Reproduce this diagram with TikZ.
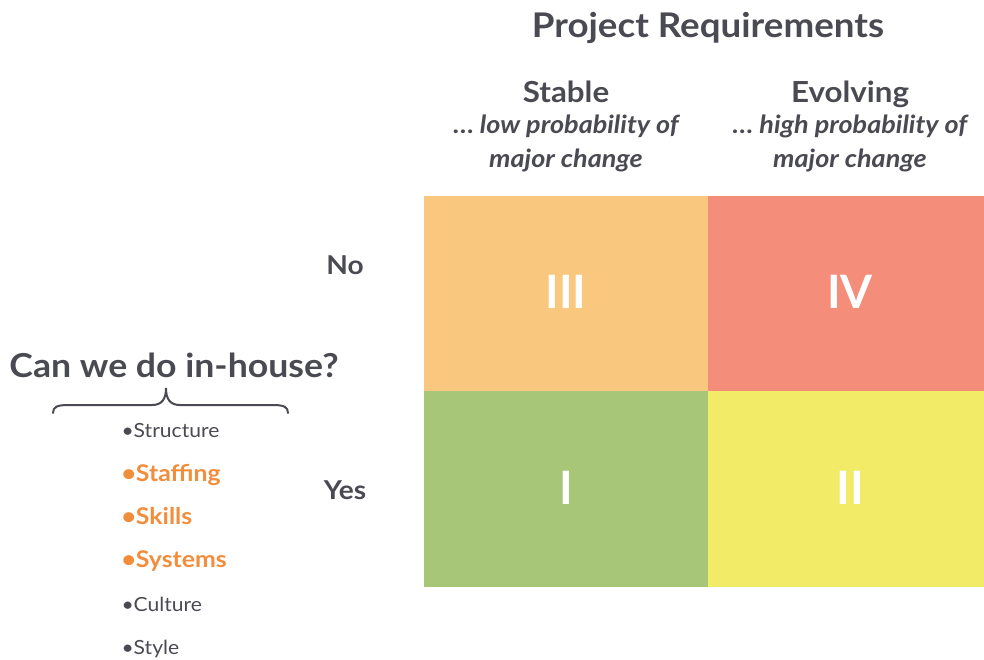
\documentclass[tikz,border=0pt]{standalone}
\usepackage{fontspec}
\setmainfont{Lato}[FakeStretch=1.08]
\newfontfamily\numfont{Lato}
\definecolor{ink}{HTML}{4A4A52}
\definecolor{hilite}{HTML}{F28D3C}
\definecolor{cellIII}{HTML}{F9C77D}
\definecolor{cellIV}{HTML}{F48E7A}
\definecolor{cellI}{HTML}{A7C677}
\definecolor{cellII}{HTML}{F1EB67}
\begin{document}
\begin{tikzpicture}[x=1pt,y=-1pt,
        heading/.style={text=ink,font=\bfseries\fontsize{34}{38}\selectfont},
        colhead/.style={text=ink,font=\bfseries\fontsize{29}{34}\selectfont},
        colnote/.style={text=ink,align=center,font=\bfseries\itshape\fontsize{25}{34}\selectfont},
        rowhead/.style={text=ink,font=\bfseries\fontsize{26}{30}\selectfont},
        numeral/.style={text=white,font=\numfont\bfseries\fontsize{46}{50}\selectfont},
        plain item/.style={anchor=base west,text=ink,font=\fontsize{19.5}{22}\selectfont},
        key item/.style={anchor=base west,text=hilite,font=\bfseries\fontsize{23}{26}\selectfont}]
        \useasboundingbox(0,0)rectangle(984,659);

        % quadrants
        \fill[cellIII](424,196)rectangle(708,391);
        \fill[cellIV](708,196)rectangle(984,391);
        \fill[cellI](424,391)rectangle(708,587);
        \fill[cellII](708,391)rectangle(984,587);
        \node[numeral](qIII)at(566,292){III};
        \node[numeral](qIV)at(850,292){IV};
        \node[numeral](qI)at(566,488){I};
        \node[numeral](qII)at(850,488){II};

        % column headings
        \node[heading,anchor=base](title)at(708,37){Project Requirements};
        \node[colhead,anchor=base](stable)at(566,102){Stable};
        \node[colhead,anchor=base](evolving)at(850,102){Evolving};
        \node[colnote,anchor=north](stablenote)at(566,111){\dots\ low probability of\\major change};
        \node[colnote,anchor=north](evolvingnote)at(850,111){\dots\ high probability of\\major change};

        % row headings
        \node[rowhead](no)at(345,265){No};
        \node[rowhead](yes)at(345,490){Yes};
        \node[heading,font=\bfseries\fontsize{33}{38}\selectfont,anchor=base](inhouse)at(174,377){Can we do in-house?};
        \draw[ink,line width=2pt,line cap=round](53,413)..controls(53,407)and(57,405)..(68,405)--(152,405)
            ..controls(162,405)and(166,399)..(166,388)
            ..controls(166,399)and(170,405)..(180,405)--(273,405)
            ..controls(284,405)and(288,407)..(288,413);

        % what we would need
        \node[plain item](structure)at(118,437){•Structure};
        \node[key item](staffing)at(118,481){•Staffing};
        \node[key item](skills)at(118,524){•Skills};
        \node[key item](systems)at(118,567){•Systems};
        \node[plain item](culture)at(118,611){•Culture};
        \node[plain item](style)at(118,654){•Style};
\end{tikzpicture}
\end{document}
